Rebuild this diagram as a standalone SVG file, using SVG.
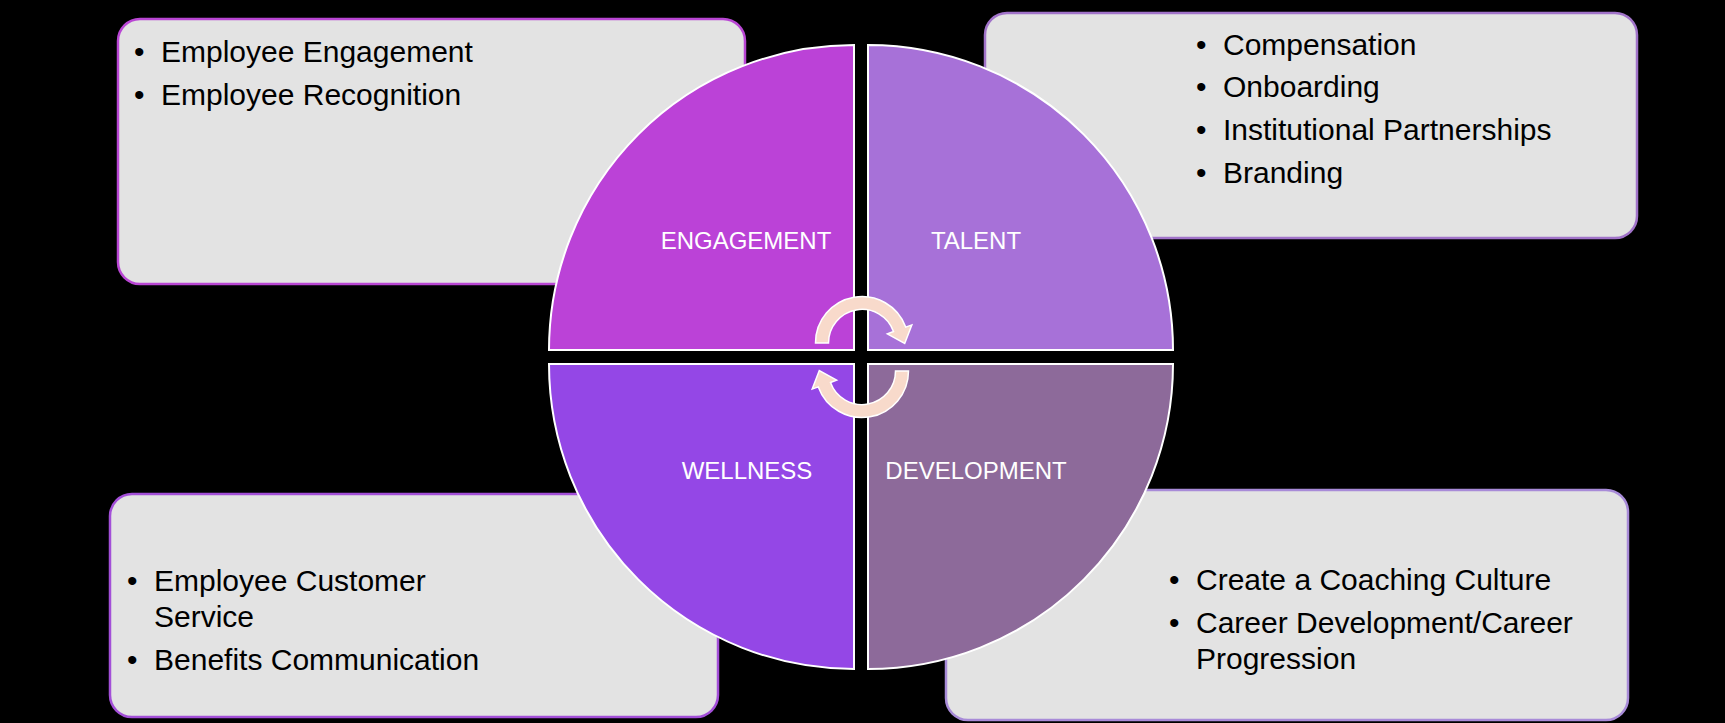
<svg xmlns="http://www.w3.org/2000/svg" width="1725" height="723" viewBox="0 0 1725 723">
<style>
.box{fill:#E3E3E3;stroke-width:2.5}
.item{font-family:"Liberation Sans",Arial,sans-serif;font-size:30px;fill:#000}
.q{stroke:#FFFFFF;stroke-width:2}
.lbl{font-family:"Liberation Sans",Arial,sans-serif;font-size:24px;fill:#FFFFFF;text-anchor:middle}
.arr{fill:#F8DACB;stroke:#FFFFFF;stroke-width:1.5}
</style>
<rect x="0" y="0" width="1725" height="723" fill="#000000"/>
<g id="box-engagement">
<rect class="box" x="118" y="19" width="627" height="265" rx="22" stroke="#B946D4"/>
<text class="item" x="134" y="62">•</text><text class="item" x="161" y="62">Employee Engagement</text>
<text class="item" x="134" y="105">•</text><text class="item" x="161" y="105">Employee Recognition</text>
</g>
<g id="box-talent">
<rect class="box" x="985" y="13" width="652" height="225" rx="22" stroke="#A173C9"/>
<text class="item" x="1196" y="55">•</text><text class="item" x="1223" y="55">Compensation</text>
<text class="item" x="1196" y="97">•</text><text class="item" x="1223" y="97">Onboarding</text>
<text class="item" x="1196" y="140">•</text><text class="item" x="1223" y="140">Institutional Partnerships</text>
<text class="item" x="1196" y="183">•</text><text class="item" x="1223" y="183">Branding</text>
</g>
<g id="box-wellness">
<rect class="box" x="110" y="494" width="608" height="223" rx="22" stroke="#A34FD8"/>
<text class="item" x="127" y="591">•</text><text class="item" x="154" y="591">Employee Customer</text>
<text class="item" x="154" y="627">Service</text>
<text class="item" x="127" y="670">•</text><text class="item" x="154" y="670">Benefits Communication</text>
</g>
<g id="box-development">
<rect class="box" x="946" y="490" width="682" height="230" rx="22" stroke="#A88BD8"/>
<text class="item" x="1169" y="590">•</text><text class="item" x="1196" y="590">Create a Coaching Culture</text>
<text class="item" x="1169" y="633">•</text><text class="item" x="1196" y="633">Career Development/Career</text>
<text class="item" x="1196" y="669">Progression</text>
</g>
<g id="q-engagement">
<path class="q" d="M854,350 L549,350 A305,305 0 0 1 854,45 Z" fill="#BB42D7"/>
<text class="lbl" x="746" y="249">ENGAGEMENT</text>
</g>
<g id="q-talent">
<path class="q" d="M868,350 L868,45 A305,305 0 0 1 1173,350 Z" fill="#A771D8"/>
<text class="lbl" x="976" y="249">TALENT</text>
</g>
<g id="q-wellness">
<path class="q" d="M854,364 L854,669 A305,305 0 0 1 549,364 Z" fill="#9447E6"/>
<text class="lbl" x="747" y="479">WELLNESS</text>
</g>
<g id="q-development">
<path class="q" d="M868,364 L1173,364 A305,305 0 0 1 868,669 Z" fill="#8D6A9A"/>
<text class="lbl" x="976" y="479">DEVELOPMENT</text>
</g>
<g id="connectors">
<path class="arr" d="M815.5,343 A46.5,46.5 0 0 1 905.7,327.1 L911.8,324.9 L904.7,343.4 L887.4,333.8 L893.5,331.5 A33.5,33.5 0 0 0 828.5,343 Z"/>
<path class="arr" transform="rotate(180 862 357)" d="M815.5,343 A46.5,46.5 0 0 1 905.7,327.1 L911.8,324.9 L904.7,343.4 L887.4,333.8 L893.5,331.5 A33.5,33.5 0 0 0 828.5,343 Z"/>
</g>
</svg>
